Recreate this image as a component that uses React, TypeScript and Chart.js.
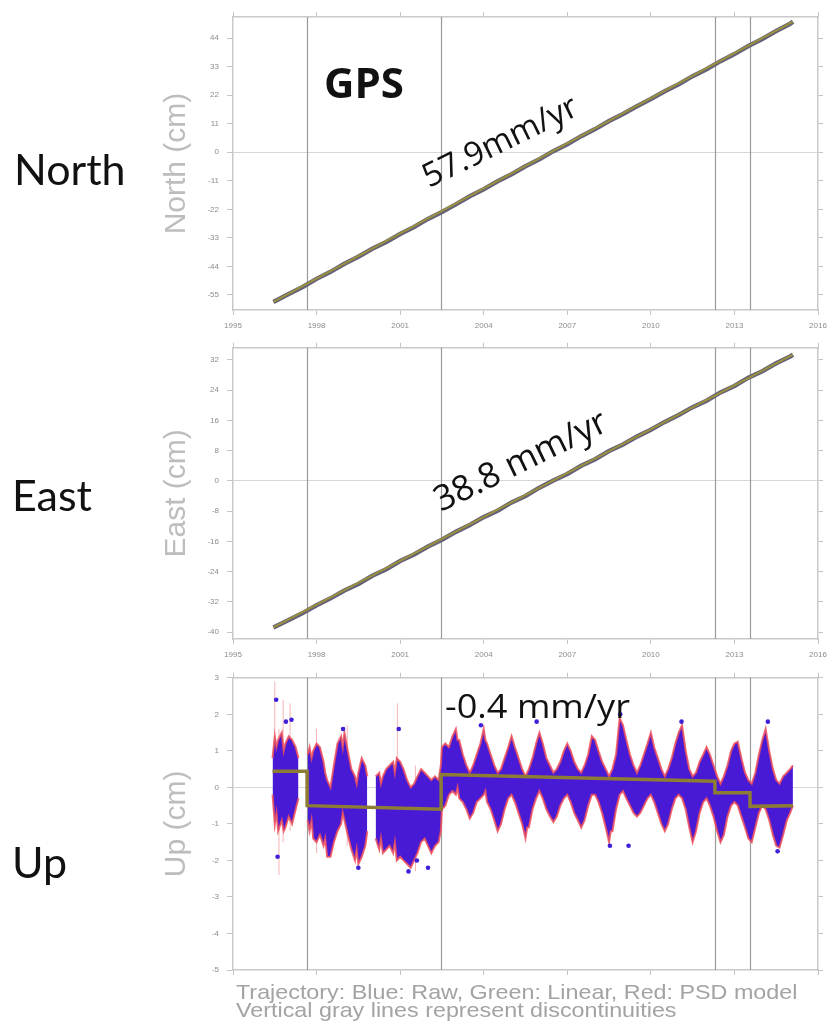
import React, { useEffect, useRef } from "react";
import { Chart, registerables } from "chart.js";
Chart.register(...registerables);

// ---------- data ----------
const discontinuities = [1997.66, 2002.47, 2012.3, 2013.56];

const sampleYears = [
  1996.45, 1997.0, 1997.5, 1998.0, 1998.5, 1999.0, 1999.5, 2000.0, 2000.5, 2001.0,
  2001.5, 2002.0, 2002.5, 2003.0, 2003.5, 2004.0, 2004.5, 2005.0, 2005.5, 2006.0,
  2006.5, 2007.0, 2007.5, 2008.0, 2008.5, 2009.0, 2009.5, 2010.0, 2010.5, 2011.0,
  2011.5, 2012.0, 2012.5, 2013.0, 2013.5, 2014.0, 2014.5, 2015.0, 2015.1,
];
const northRaw = [
  -57.7, -54.6, -51.9, -48.8, -46.1, -43.0, -40.3, -37.2, -34.6, -31.5,
  -28.8, -25.7, -23.0, -20.1, -17.0, -14.3, -11.2, -8.5, -5.4, -2.7,
  0.4, 3.1, 6.2, 8.9, 12.0, 14.7, 17.7, 20.5, 23.5, 26.2,
  29.3, 32.0, 35.1, 37.8, 40.9, 43.6, 46.7, 49.5, 50.3,
];
const eastRaw = [
  -38.8, -36.8, -35.0, -32.9, -31.1, -29.0, -27.3, -25.1, -23.4, -21.2,
  -19.5, -17.4, -15.6, -13.5, -11.7, -9.6, -7.9, -5.7, -4.0, -1.8,
  0.1, 1.8, 4.0, 5.7, 7.9, 9.6, 11.7, 13.5, 15.6, 17.4,
  19.5, 21.2, 23.4, 25.1, 27.3, 29.0, 31.1, 32.9, 33.4,
];
const modelYears = [1996.45, 2015.1];
const northModel = [-57.7, 50.3];
const eastModel = [-38.8, 33.4];

// Up: [year, low, high] envelope of the raw scatter (null = data gap)
const upBand: [number, number | null, number | null][] = [
  [1996.42, -0.2, 0.8], [1996.5, -1.0, 1.4], [1996.56, -0.7, 1.1], [1996.62, -1.2, 1.3], [1996.75, -0.9, 1.5],
  [1996.82, -1.2, 1.0], [1996.88, -1.1, 1.2], [1997.0, -0.8, 1.4], [1997.12, -1.0, 1.3], [1997.25, -0.6, 1.1],
  [1997.35, -0.3, 0.8], [1997.5, null, null],
  [1997.68, -0.9, 0.9], [1997.75, -1.2, 1.1], [1997.82, -0.9, 0.8], [1997.88, -1.4, 1.0], [1998.0, -1.5, 1.2],
  [1998.12, -1.3, 1.1], [1998.25, -1.6, 0.7], [1998.31, -1.4, 0.4], [1998.38, -1.9, 0.2], [1998.5, -1.9, 0.0],
  [1998.62, -1.5, 0.6], [1998.75, -1.2, 1.2], [1998.88, -1.0, 1.4], [1998.94, -0.7, 1.1], [1999.0, -0.9, 1.5],
  [1999.12, -1.3, 1.0], [1999.25, -1.7, 0.5], [1999.38, -2.0, 0.3], [1999.44, -1.7, 0.1], [1999.5, -2.1, 0.4],
  [1999.62, -1.9, 0.8], [1999.75, -1.6, 0.6], [1999.82, -1.2, 0.3], [1999.95, null, null],
  [2000.12, -1.4, 0.3], [2000.25, -1.7, 0.4], [2000.31, -1.4, 0.1], [2000.38, -1.8, 0.3], [2000.5, -1.7, 0.5],
  [2000.62, -1.6, 0.6], [2000.75, -1.8, 0.7], [2000.81, -1.5, 0.4], [2000.88, -2.0, 0.8], [2001.0, -1.9, 0.7],
  [2001.12, -2.0, 0.5], [2001.25, -2.1, 0.2], [2001.38, -2.2, 0.0], [2001.5, -2.0, 0.1],
  [2001.62, -1.8, 0.3], [2001.75, -1.5, 0.5], [2001.88, -1.4, 0.4], [2002.0, -1.6, 0.3],
  [2002.12, -1.8, 0.2], [2002.25, -1.6, 0.3], [2002.38, -1.5, 0.2], [2002.46, -1.2, 0.6],
  [2002.5, -0.6, 1.1], [2002.62, -0.5, 1.2], [2002.75, -0.2, 1.1], [2002.88, -0.1, 1.4],
  [2003.0, -0.2, 1.6], [2003.06, 0.0, 1.3], [2003.12, -0.3, 1.3], [2003.25, -0.4, 0.9], [2003.38, -0.6, 0.6],
  [2003.5, -0.85, 0.4], [2003.62, -0.7, 0.6], [2003.75, -0.4, 0.9], [2003.88, -0.3, 1.2],
  [2004.0, -0.2, 1.6], [2004.06, -0.1, 1.3], [2004.12, -0.4, 1.2], [2004.25, -0.6, 0.9], [2004.38, -0.9, 0.6],
  [2004.5, -1.2, 0.4], [2004.62, -1.0, 0.5], [2004.75, -0.6, 0.8], [2004.88, -0.3, 1.1],
  [2005.0, -0.2, 1.4], [2005.12, -0.4, 1.1], [2005.25, -0.7, 0.8], [2005.38, -1.0, 0.5],
  [2005.5, -1.4, 0.3], [2005.56, -1.1, 0.4], [2005.62, -1.1, 0.5], [2005.75, -0.6, 0.8], [2005.88, -0.3, 1.2],
  [2006.0, -0.1, 1.5], [2006.12, -0.3, 1.2], [2006.25, -0.6, 0.8], [2006.38, -0.8, 0.6],
  [2006.5, -0.95, 0.4], [2006.62, -0.8, 0.5], [2006.75, -0.5, 0.7], [2006.88, -0.3, 1.0],
  [2007.0, -0.2, 1.2], [2007.12, -0.4, 1.0], [2007.25, -0.7, 0.7], [2007.38, -0.9, 0.5],
  [2007.5, -1.1, 0.4], [2007.62, -0.9, 0.6], [2007.75, -0.5, 0.9], [2007.88, -0.2, 1.4],
  [2008.0, -0.2, 1.3], [2008.12, -0.4, 1.0], [2008.25, -0.7, 0.7], [2008.38, -1.1, 0.5],
  [2008.5, -1.5, 0.3], [2008.56, -1.2, 0.4], [2008.62, -1.2, 0.5], [2008.75, -0.6, 0.9], [2008.88, -0.2, 1.9],
  [2009.0, -0.1, 1.7], [2009.12, -0.3, 1.3], [2009.25, -0.5, 0.9], [2009.38, -0.7, 0.6],
  [2009.5, -0.8, 0.4], [2009.62, -0.7, 0.6], [2009.75, -0.5, 0.9], [2009.88, -0.3, 1.2],
  [2010.0, -0.2, 1.5], [2010.12, -0.4, 1.1], [2010.25, -0.7, 0.8], [2010.38, -1.0, 0.5],
  [2010.5, -1.2, 0.3], [2010.62, -1.0, 0.5], [2010.75, -0.6, 0.8], [2010.88, -0.3, 1.2],
  [2011.0, -0.2, 1.5], [2011.12, -0.3, 1.7], [2011.25, -0.6, 1.0], [2011.38, -1.1, 0.5],
  [2011.5, -1.5, 0.3], [2011.62, -1.2, 0.4], [2011.75, -0.7, 0.7], [2011.88, -0.4, 0.9],
  [2012.0, -0.3, 1.1], [2012.12, -0.5, 0.9], [2012.25, -0.8, 0.6], [2012.38, -1.2, 0.3],
  [2012.5, -1.5, 0.1], [2012.62, -1.3, 0.3], [2012.75, -0.8, 0.6], [2012.88, -0.5, 1.0],
  [2013.0, -0.4, 1.2], [2013.12, -0.5, 1.25], [2013.25, -0.8, 0.8], [2013.38, -1.1, 0.4],
  [2013.5, -1.4, 0.2], [2013.62, -1.5, 0.1], [2013.75, -1.1, 0.4], [2013.88, -0.7, 0.9],
  [2014.0, -0.5, 1.3], [2014.12, -0.6, 1.6], [2014.25, -0.9, 1.0], [2014.38, -1.3, 0.5],
  [2014.5, -1.6, 0.2], [2014.62, -1.65, 0.1], [2014.75, -1.3, 0.3], [2014.88, -0.9, 0.4],
  [2015.0, -0.7, 0.5], [2015.1, -0.5, 0.6],
];
const upOutlierYears = [1996.55, 1996.6, 1996.9, 1997.1, 1998.95, 1999.5, 2000.95, 2001.3, 2001.6, 2002.0, 2003.9, 2005.9, 2008.53, 2008.9, 2009.2, 2011.1, 2014.2, 2014.55];
const upOutlierValues = [2.4, -1.9, 1.8, 1.85, 1.6, -2.2, 1.6, -2.3, -2.0, -2.2, 1.7, 1.8, -1.6, 2.0, -1.6, 1.8, 1.8, -1.75];
// red PSD error bars: [year, low, high]
const upErrorBars: [number, number, number][] = [
  [1996.5, -1.2, 2.9], [1996.65, -2.4, 1.6], [1996.8, -1.5, 2.4], [1997.05, -1.2, 2.3],
  [1998.0, -1.8, 1.6], [1999.1, -1.6, 1.7], [2000.9, -2.0, 2.3], [2001.55, -2.3, 0.6],
];
const upModelYears = [1996.42, 1997.66, 1997.66, 2002.47, 2002.47, 2012.3, 2012.3, 2013.56, 2013.56, 2015.1];
const upModelValues = [0.44, 0.44, -0.5, -0.6, 0.35, 0.17, -0.15, -0.15, -0.52, -0.5];

// ---------- plugins ----------
const discPlugin = {
  id: "disc",
  beforeDatasetsDraw(chart: any) {
    const { ctx, chartArea, scales } = chart;
    ctx.save();
    ctx.strokeStyle = "#9a9a9a";
    ctx.lineWidth = 1.2;
    for (const d of discontinuities) {
      const px = Math.round(scales.x.getPixelForValue(d)) + 0.5;
      ctx.beginPath();
      ctx.moveTo(px, chartArea.top);
      ctx.lineTo(px, chartArea.bottom);
      ctx.stroke();
    }
    ctx.restore();
  },
};

const textPlugin = {
  id: "pageText",
  afterDraw(chart: any, _a: any, opts: any) {
    const ctx = chart.ctx;
    const oy = opts.offsetTop || 0;
    for (const it of opts.items || []) {
      ctx.save();
      ctx.translate(it.x, it.y - oy);
      if (it.rot) ctx.rotate((it.rot * Math.PI) / 180);
      if (it.sx) ctx.scale(it.sx, 1);
      ctx.font = it.font;
      ctx.fillStyle = it.color || "#111";
      ctx.textBaseline = "alphabetic";
      ctx.textAlign = "left";
      ctx.fillText(it.text, 0, 0);
      ctx.restore();
    }
  },
};

const xy = (xs: number[], ys: (number | null)[]) => xs.map((x, i) => ({ x, y: ys[i] }));

function panel(p: any) {
  const tickFont = { size: 8, family: "Liberation Sans" };
  const border = { color: "#c9c9c9", width: 1.5 };
  const yTicks = { stepSize: p.step, includeBounds: false };
  return {
    type: "line",
    data: { datasets: p.datasets },
    plugins: [discPlugin, textPlugin],
    options: {
      animation: false,
      responsive: false,
      devicePixelRatio: 1,
      layout: { padding: 0 },
      plugins: {
        legend: { display: false },
        tooltip: { enabled: false },
        pageText: { items: p.items, offsetTop: p.top },
      },
      scales: {
        x: {
          type: "linear", position: "bottom", min: 1995, max: 2016, offset: false,
          ticks: { stepSize: 3, display: p.xLabels, callback: (v: any) => String(v), font: tickFont, color: "#8c8c8c", padding: 6, maxRotation: 0, autoSkip: false },
          grid: { drawOnChartArea: false, tickLength: 5, tickColor: "#c4c4c4" },
          border,
          afterFit: (s: any) => { s.height = p.h - p.areaBottom; },
        },
        x2: {
          type: "linear", position: "top", min: 1995, max: 2016, offset: false,
          ticks: { stepSize: 3, display: false },
          grid: { drawOnChartArea: false, tickLength: 5, tickColor: "#c4c4c4" },
          border,
          afterFit: (s: any) => { s.height = p.areaTop; },
        },
        y: {
          type: "linear", position: "left", min: p.min, max: p.max,
          ticks: { ...yTicks, callback: (v: any) => String(v), font: tickFont, color: "#8c8c8c", padding: 8 },
          grid: {
            color: (c: any) => (c.tick && c.tick.value === 0 ? "#d6d6d6" : "rgba(0,0,0,0)"),
            tickColor: "#c4c4c4", tickLength: 6, lineWidth: 1,
          },
          border,
          title: { display: true, text: p.title, color: "#bdbdbd", font: { size: 30, family: "Liberation Sans" }, padding: { top: 159, bottom: 0 } },
          afterFit: (s: any) => { s.width = 233; },
        },
        y2: {
          type: "linear", position: "right", min: p.min, max: p.max,
          ticks: { ...yTicks, display: false },
          grid: { drawOnChartArea: false, tickLength: 5, tickColor: "#c4c4c4" },
          border,
          afterFit: (s: any) => { s.width = 16; },
        },
      },
    },
  };
}

const rawStyle = { borderColor: "#66617a", borderWidth: 4.5, pointRadius: 0, fill: false };
const modelStyle = { borderColor: "#9a913e", borderWidth: 2, pointRadius: 0, fill: false };
const big = '43px Lato';

const topCfg = panel({
  top: 0, h: 335, areaTop: 17, areaBottom: 310, min: -60.8, max: 52.1, step: 11,
  title: "North (cm)", xLabels: true,
  datasets: [
    { label: "Linear", data: xy(modelYears, northModel), ...modelStyle },
    { label: "Raw", data: xy(sampleYears, northRaw), ...rawStyle },
  ],
  items: [
    { text: "North", x: 14, y: 185, font: big },
    { text: "GPS", x: 324, y: 98, font: 'bold 42px "Open Sans"' },
    { text: "57.9mm/yr", x: 429, y: 188, rot: -26, font: '33px "Open Sans"' },
  ],
});

const midCfg = panel({
  top: 335, h: 330, areaTop: 12, areaBottom: 304, min: -41.85, max: 35.2, step: 8,
  title: "East (cm)", xLabels: true,
  datasets: [
    { label: "Linear", data: xy(modelYears, eastModel), ...modelStyle },
    { label: "Raw", data: xy(sampleYears, eastRaw), ...rawStyle },
  ],
  items: [
    { text: "East", x: 12, y: 511, font: big },
    { text: "38.8 mm/yr", x: 441, y: 512, rot: -26, font: '35px "Open Sans"' },
  ],
});

const errData: any[] = [];
upErrorBars.forEach(([t, lo, hi]) => { errData.push({ x: t, y: lo }, { x: t, y: hi }, { x: t, y: null }); });

const botCfg = panel({
  top: 665, h: 359, areaTop: 12, areaBottom: 305, min: -5, max: 3, step: 1,
  title: "Up (cm)", xLabels: false,
  datasets: [
    { label: "Linear", data: xy(upModelYears, upModelValues), borderColor: "#8c7c34", borderWidth: 3.5, pointRadius: 0, fill: false },
    { label: "Outliers", data: xy(upOutlierYears, upOutlierValues), showLine: false, pointRadius: 2.3, pointBorderWidth: 0, pointBackgroundColor: "#3f1fd8" },
    { label: "Low", data: upBand.map(([t, lo]) => ({ x: t, y: lo })), borderColor: "rgba(238,80,90,0.85)", borderWidth: 2, pointRadius: 0, fill: false, spanGaps: false },
    { label: "High", data: upBand.map(([t, , hi]) => ({ x: t, y: hi })), borderColor: "rgba(238,80,90,0.85)", borderWidth: 2, pointRadius: 0, fill: "-1", backgroundColor: "rgb(72,26,214)", spanGaps: false },
    { label: "PSD", data: errData, borderColor: "rgba(240,120,120,0.55)", borderWidth: 1, pointRadius: 0, fill: false, spanGaps: false },
  ],
  items: [
    { text: "Up", x: 12, y: 878, font: big },
    { text: "-0.4 mm/yr", x: 445, y: 718, font: '32px "Open Sans"', sx: 1.13 },
    { text: "Trajectory: Blue: Raw, Green: Linear, Red: PSD model", x: 236, y: 999, font: '21px "Liberation Sans"', color: "#a3a3a3", sx: 1.11 },
    { text: "Vertical gray lines represent discontinuities", x: 236, y: 1017, font: '21px "Liberation Sans"', color: "#a3a3a3", sx: 1.11 },
  ],
});

export default function App() {
  const r1 = useRef<HTMLCanvasElement>(null);
  const r2 = useRef<HTMLCanvasElement>(null);
  const r3 = useRef<HTMLCanvasElement>(null);
  useEffect(() => {
    const charts = [
      new Chart(r1.current as any, topCfg as any),
      new Chart(r2.current as any, midCfg as any),
      new Chart(r3.current as any, botCfg as any),
    ];
    return () => charts.forEach((c) => c.destroy());
  }, []);
  const cs = (top: number, h: number): React.CSSProperties => ({ position: "absolute", left: 0, top, width: 834, height: h });
  return (
    <div style={{ position: "absolute", left: 0, top: 0, width: 834, height: 1024, background: "#fff", overflow: "hidden" }}>
      <canvas ref={r1} width={834} height={335} style={cs(0, 335)} />
      <canvas ref={r2} width={834} height={330} style={cs(335, 330)} />
      <canvas ref={r3} width={834} height={359} style={cs(665, 359)} />
    </div>
  );
}
